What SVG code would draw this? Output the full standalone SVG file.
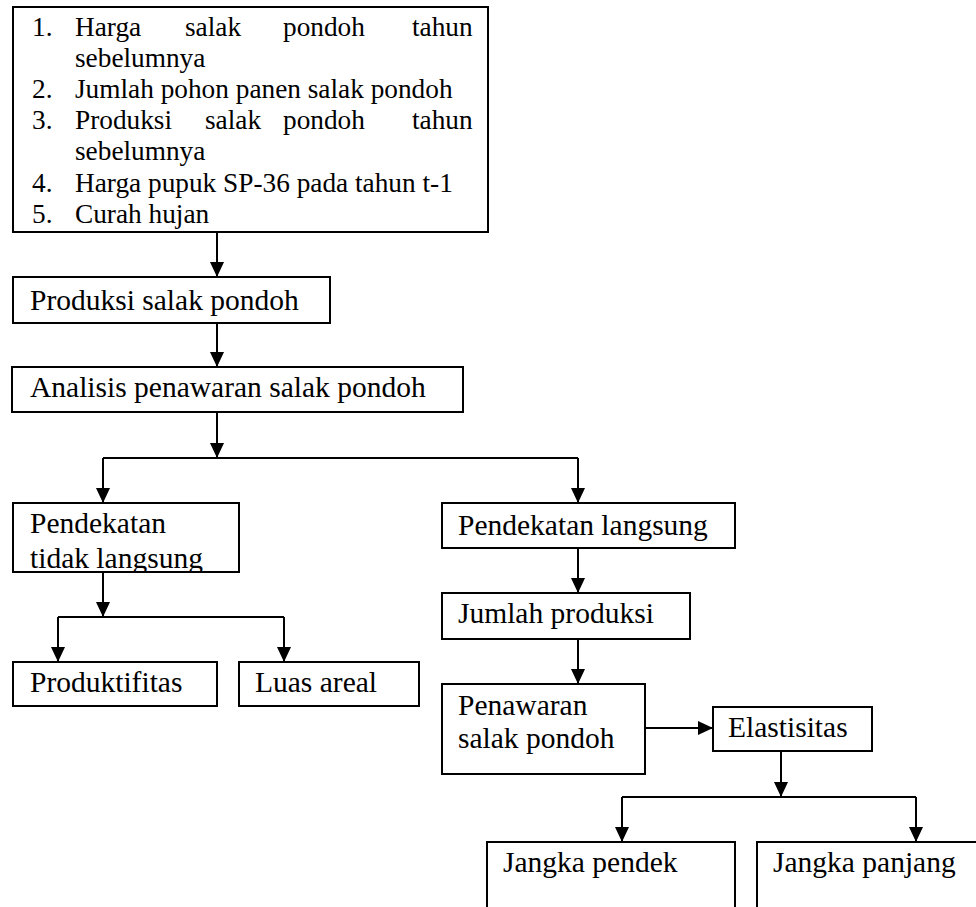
<svg xmlns="http://www.w3.org/2000/svg" width="976" height="907" viewBox="0 0 976 907">
<style>
.box{fill:#fff;stroke:#000;stroke-width:2}
.t{font-family:"Liberation Serif","Times New Roman",serif;font-size:29.5px;fill:#000}
.l{font-family:"Liberation Serif","Times New Roman",serif;font-size:27.3px;fill:#000}
.c{fill:none;stroke:#000;stroke-width:2}
</style>
<defs>
<marker id="ah" markerUnits="userSpaceOnUse" markerWidth="16" markerHeight="14" refX="15" refY="7" orient="auto" viewBox="0 0 16 14">
<path d="M0,0 L15,7 L0,14 z" fill="#000"/>
</marker>
<clipPath id="clipTL"><rect x="13" y="503" width="226" height="69"/></clipPath>
</defs>
<rect width="976" height="907" fill="#fff"/>
<g id="connectors">
<path class="c" d="M217,232 V277" marker-end="url(#ah)"/>
<path class="c" d="M217,323 V367" marker-end="url(#ah)"/>
<path class="c" d="M217,412 V458" marker-end="url(#ah)"/>
<path class="c" d="M103,458 H578"/>
<path class="c" d="M103,458 V503" marker-end="url(#ah)"/>
<path class="c" d="M578,458 V503" marker-end="url(#ah)"/>
<path class="c" d="M103,572 V617" marker-end="url(#ah)"/>
<path class="c" d="M58,617 H284"/>
<path class="c" d="M58,617 V662" marker-end="url(#ah)"/>
<path class="c" d="M284,617 V662" marker-end="url(#ah)"/>
<path class="c" d="M578,548 V593" marker-end="url(#ah)"/>
<path class="c" d="M578,639 V684" marker-end="url(#ah)"/>
<path class="c" d="M645,728 H713" marker-end="url(#ah)"/>
<path class="c" d="M781,751 V797" marker-end="url(#ah)"/>
<path class="c" d="M622,797 H916"/>
<path class="c" d="M622,797 V842" marker-end="url(#ah)"/>
<path class="c" d="M916,797 V842" marker-end="url(#ah)"/>
</g>
<g id="node-faktor">
<rect class="box" x="13" y="7" width="475" height="225"/>
<text class="l" y="35.5"><tspan x="32">1.</tspan><tspan x="75">Harga</tspan><tspan x="185">salak</tspan><tspan x="283">pondoh</tspan><tspan x="412">tahun</tspan></text>
<text class="l" x="75" y="66.7">sebelumnya</text>
<text class="l" y="97.9"><tspan x="32">2.</tspan><tspan x="75">Jumlah pohon panen salak pondoh</tspan></text>
<text class="l" y="129.1"><tspan x="32">3.</tspan><tspan x="75">Produksi</tspan><tspan x="205">salak</tspan><tspan x="283">pondoh</tspan><tspan x="412">tahun</tspan></text>
<text class="l" x="75" y="160.3">sebelumnya</text>
<text class="l" y="191.5"><tspan x="32">4.</tspan><tspan x="75">Harga pupuk SP-36 pada tahun t-1</tspan></text>
<text class="l" y="222.7"><tspan x="32">5.</tspan><tspan x="75">Curah hujan</tspan></text>
</g>
<g id="node-produksi">
<rect class="box" x="13" y="277" width="317" height="46"/>
<text class="t" x="30" y="310">Produksi salak pondoh</text>
</g>
<g id="node-analisis">
<rect class="box" x="12" y="367" width="451" height="45"/>
<text class="t" x="30" y="397">Analisis penawaran salak pondoh</text>
</g>
<g id="node-tidak-langsung">
<rect class="box" x="13" y="503" width="226" height="69"/>
<g clip-path="url(#clipTL)">
<text class="t" x="30" y="533">Pendekatan</text>
<text class="t" x="30" y="568">tidak langsung</text>
</g>
<rect x="13" y="503" width="226" height="69" fill="none" stroke="#000" stroke-width="2"/>
</g>
<g id="node-produktifitas">
<rect class="box" x="13" y="662" width="204" height="44"/>
<text class="t" x="30" y="692">Produktifitas</text>
</g>
<g id="node-luas">
<rect class="box" x="239" y="662" width="180" height="44"/>
<text class="t" x="255" y="692">Luas areal</text>
</g>
<g id="node-langsung">
<rect class="box" x="442" y="503" width="293" height="45"/>
<text class="t" x="458" y="535">Pendekatan langsung</text>
</g>
<g id="node-jumlah">
<rect class="box" x="442" y="593" width="248" height="46"/>
<text class="t" x="458" y="623">Jumlah produksi</text>
</g>
<g id="node-penawaran">
<rect class="box" x="442" y="684" width="203" height="90"/>
<text class="t" x="458" y="715">Penawaran</text>
<text class="t" x="458" y="748">salak pondoh</text>
</g>
<g id="node-elastisitas">
<rect class="box" x="713" y="707" width="159" height="44"/>
<text class="t" x="728" y="737">Elastisitas</text>
</g>
<g id="node-pendek">
<rect class="box" x="487" y="842" width="248" height="90"/>
<text class="t" x="503" y="872">Jangka pendek</text>
</g>
<g id="node-panjang">
<rect class="box" x="757" y="842" width="240" height="90"/>
<text class="t" x="773" y="872">Jangka panjang</text>
</g>
</svg>
